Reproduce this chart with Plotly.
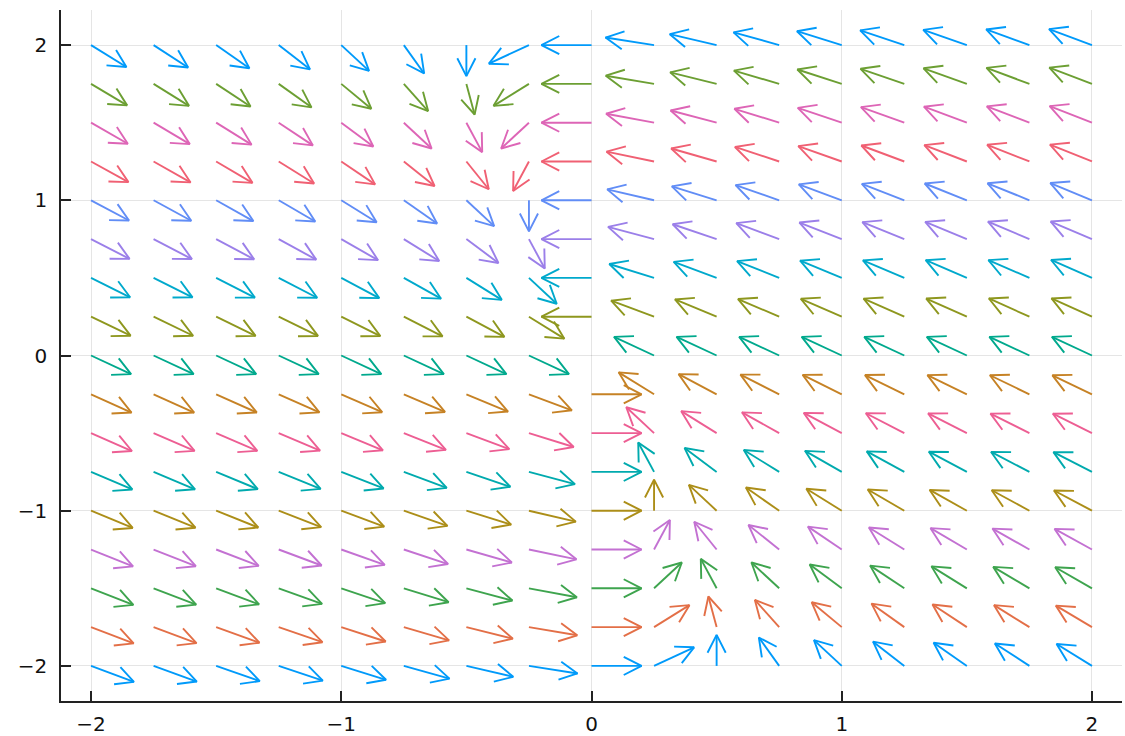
import math
import plotly.graph_objects as go

# Grid of arrow tails
X_VALS = [-2.0, -1.75, -1.5, -1.25, -1.0, -0.75, -0.5, -0.25, 0.0,
          0.25, 0.5, 0.75, 1.0, 1.25, 1.5, 1.75, 2.0]
Y_VALS = [-2.0, -1.75, -1.5, -1.25, -1.0, -0.75, -0.5, -0.25, 0.0,
          0.25, 0.5, 0.75, 1.0, 1.25, 1.5, 1.75, 2.0]

# Horizontal field component (relative units), one row per Y value (bottom to top)
U_ROWS = [
    [40, 36, 32, 28, 24, 20, 16, 12, 8, 4, 0, -4, -8, -12, -16, -20, -24],
    [39, 35, 31, 27, 23, 19, 15, 11, 7, 3, -1, -5, -9, -13, -17, -21, -25],
    [38, 34, 30, 26, 22, 18, 14, 10, 6, 2, -2, -6, -10, -14, -18, -22, -26],
    [37, 33, 29, 25, 21, 17, 13, 9, 5, 1, -3, -7, -11, -15, -19, -23, -27],
    [36, 32, 28, 24, 20, 16, 12, 8, 4, 0, -4, -8, -12, -16, -20, -24, -28],
    [35, 31, 27, 23, 19, 15, 11, 7, 3, -1, -5, -9, -13, -17, -21, -25, -29],
    [34, 30, 26, 22, 18, 14, 10, 6, 2, -2, -6, -10, -14, -18, -22, -26, -30],
    [33, 29, 25, 21, 17, 13, 9, 5, 1, -3, -7, -11, -15, -19, -23, -27, -31],
    [32, 28, 24, 20, 16, 12, 8, 4, 0, -4, -8, -12, -16, -20, -24, -28, -32],
    [31, 27, 23, 19, 15, 11, 7, 3, -1, -5, -9, -13, -17, -21, -25, -29, -33],
    [30, 26, 22, 18, 14, 10, 6, 2, -2, -6, -10, -14, -18, -22, -26, -30, -34],
    [29, 25, 21, 17, 13, 9, 5, 1, -3, -7, -11, -15, -19, -23, -27, -31, -35],
    [28, 24, 20, 16, 12, 8, 4, 0, -4, -8, -12, -16, -20, -24, -28, -32, -36],
    [27, 23, 19, 15, 11, 7, 3, -1, -5, -9, -13, -17, -21, -25, -29, -33, -37],
    [26, 22, 18, 14, 10, 6, 2, -2, -6, -10, -14, -18, -22, -26, -30, -34, -38],
    [25, 21, 17, 13, 9, 5, 1, -3, -7, -11, -15, -19, -23, -27, -31, -35, -39],
    [24, 20, 16, 12, 8, 4, 0, -4, -8, -12, -16, -20, -24, -28, -32, -36, -40],
]
# Vertical field component (relative units), same for every row, one per X value
V_COLS = [-24, -21, -18, -15, -12, -9, -6, -3, 0, 3, 6, 9, 12, 15, 18, 21, 24]

ROW_COLORS = ["#009AFA", "#E36F47", "#3EA44E", "#C371D2", "#AC8E18", "#00AAAE",
              "#ED5E93", "#C68225", "#00A98D", "#8E971E", "#00A9CC", "#9B7FE9",
              "#618DF6", "#F06073", "#DD65B6", "#6C9F33", "#009AFA"]

TICK_VALS = [-2, -1, 0, 1, 2]
TICK_TEXT = ["\u22122", "\u22121", "0", "1", "2"]

# ---- layout / style constants ----
W, H = 1125, 736
ML, MR, MT, MB = 61, 3, 10, 35
X_RANGE = [-2.12, 2.12]
Y_RANGE = [-2.226, 2.226]
ARROW_LEN = 0.2      # data units
HEAD_PX = 20.0       # barb length in pixels
HEAD_ANG = math.radians(27)

sx = (W - ML - MR) / (X_RANGE[1] - X_RANGE[0])
sy = (H - MT - MB) / (Y_RANGE[1] - Y_RANGE[0])

fig = go.Figure()
for i, y0 in enumerate(Y_VALS):
    xs, ys = [], []
    for j, x0 in enumerate(X_VALS):
        u, v = U_ROWS[i][j], V_COLS[j]
        n = math.hypot(u, v)
        if n == 0:
            continue
        dx, dy = ARROW_LEN * u / n, ARROW_LEN * v / n
        x1, y1 = x0 + dx, y0 + dy
        px, py = dx * sx, dy * sy
        pn = math.hypot(px, py)
        bx, by = -px / pn, -py / pn
        barbs = []
        for s in (1, -1):
            c, sn = math.cos(s * HEAD_ANG), math.sin(s * HEAD_ANG)
            rx, ry = bx * c - by * sn, bx * sn + by * c
            barbs.append((x1 + rx * HEAD_PX / sx, y1 + ry * HEAD_PX / sy))
        xs += [x0, x1, None, barbs[0][0], x1, barbs[1][0], None]
        ys += [y0, y1, None, barbs[0][1], y1, barbs[1][1], None]
    fig.add_trace(go.Scatter(x=xs, y=ys, mode="lines",
                             line=dict(color=ROW_COLORS[i], width=1.9),
                             hoverinfo="skip", showlegend=False))

axis_common = dict(
    showgrid=True, gridcolor="rgba(0,0,0,0.1)", gridwidth=1,
    zeroline=False, showline=True, linecolor="#222", linewidth=1.6,
    ticks="inside", ticklen=10, tickwidth=1.6, tickcolor="#222",
    tickvals=TICK_VALS, ticktext=TICK_TEXT,
    tickfont=dict(family="DejaVu Sans", size=20, color="#111"),
    mirror=False, automargin=False,
)

fig.update_layout(
    width=W, height=H,
    margin=dict(l=ML, r=MR, t=MT, b=MB, autoexpand=False),
    paper_bgcolor="white", plot_bgcolor="white",
    xaxis=dict(range=X_RANGE, ticklabelstandoff=4, **axis_common),
    yaxis=dict(range=Y_RANGE, ticklabelstandoff=8, **axis_common),
)

fig.write_html("out.html", config={"displayModeBar": False},
               post_script="document.body.style.margin='0';document.body.style.overflow='hidden';")
